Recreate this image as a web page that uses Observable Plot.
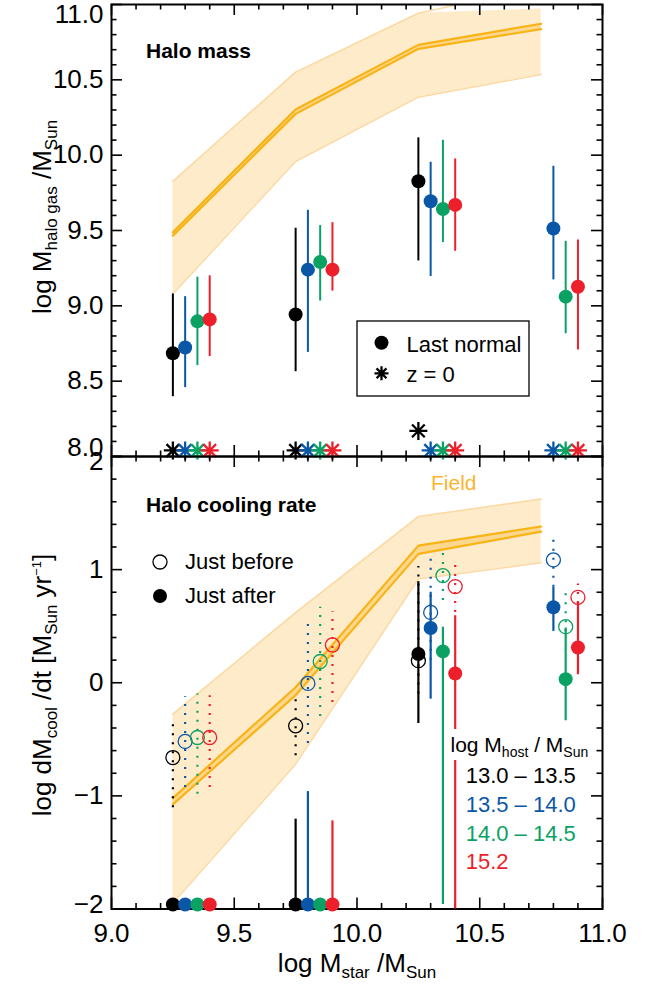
<!DOCTYPE html>
<html><head><meta charset="utf-8">
<script src="https://cdn.jsdelivr.net/npm/d3@7"></script>
<script src="https://cdn.jsdelivr.net/npm/@observablehq/plot@0.6"></script>
<style>
body{margin:0;background:#fff;}
#wrap{position:relative;width:645px;height:987px;overflow:hidden;background:#fff;}
.pane{position:absolute;left:0;}
</style></head><body><div id="wrap"><div class="pane" id="top" style="top:0"></div><div class="pane" id="bot" style="top:452px"></div></div>
<script>
// ---------- data ----------
const hostBins = ["13.0 \u2013 13.5", "13.5 \u2013 14.0", "14.0 \u2013 14.5", "15.2"];
const binColors = ["#000000", "#0a57a8", "#0aa263", "#ec1f2b"];

// x tick values
const xMajor = [9.0, 9.5, 10.0, 10.5, 11.0];
const xMinor = [9.1,9.2,9.3,9.4,9.6,9.7,9.8,9.9,10.1,10.2,10.3,10.4,10.6,10.7,10.8,10.9];
const yTopMajor = [8.0, 8.5, 9.0, 9.5, 10.0, 10.5, 11.0];
const yTopMinor = [8.1,8.2,8.3,8.4,8.6,8.7,8.8,8.9,9.1,9.2,9.3,9.4,9.6,9.7,9.8,9.9,10.1,10.2,10.3,10.4,10.6,10.7,10.8,10.9];
const yBotMajor = [-2, -1, 0, 1, 2];
const yBotMinor = [-1.8,-1.6,-1.4,-1.2,-0.8,-0.6,-0.4,-0.2,0.2,0.4,0.6,0.8,1.2,1.4,1.6,1.8];

// field (orange band)
const fieldX = [9.25, 9.75, 10.25, 10.75];
const fieldHaloLo = [9.079, 9.958, 10.385, 10.535];
const fieldHaloHi = [9.827, 10.551, 10.942, 10.97];
const fieldHaloHiEdge = [9.827, 10.551, 10.942, 11.12];
const fieldHaloMedLo = [9.466, 10.274, 10.706, 10.836];
const fieldHaloMedHi = [9.488, 10.303, 10.732, 10.872];
const fieldCoolLo = [-1.95, -0.72, 0.917, 1.06];
const fieldCoolHi = [-0.277, 0.62, 1.469, 1.625];
const fieldCoolMedLo = [-1.075, -0.11, 1.139, 1.336];
const fieldCoolMedHi = [-1.02, -0.04, 1.212, 1.381];

// top panel: last normal
const lnX   = [9.25,9.30,9.35,9.40, 9.75,9.80,9.85,9.90, 10.25,10.30,10.35,10.40, 10.80,10.85,10.90];
const lnBin = [0,1,2,3, 0,1,2,3, 0,1,2,3, 1,2,3];
const lnY   = [8.685,8.723,8.897,8.910, 8.942,9.240,9.291,9.240, 9.827,9.694,9.643,9.670, 9.513,9.061,9.127];
const lnLo  = [8.397,8.457,8.603,8.663, 8.563,8.691,9.032,9.098, 9.298,9.195,9.420,9.362, 9.172,8.815,8.707];
const lnHi  = [9.079,9.061,9.190,9.199, 9.515,9.634,9.533,9.552, 10.115,9.953,10.099,9.975, 9.926,9.428,9.437];
// top panel: z = 0
const z0X   = [9.25,9.30,9.35,9.40, 9.75,9.80,9.85,9.90, 10.25,10.30,10.35,10.40, 10.80,10.85,10.90];
const z0Bin = [0,1,2,3, 0,1,2,3, 0,1,2,3, 1,2,3];
const z0Y   = [8.04,8.04,8.04,8.04, 8.04,8.04,8.04,8.04, 8.17,8.04,8.04,8.04, 8.04,8.04,8.04];

// bottom panel: just before (open, dotted)
const jbX   = [9.25,9.30,9.35,9.40, 9.75,9.80,9.85,9.90, 10.25,10.30,10.35,10.40, 10.80,10.85,10.90];
const jbBin = [0,1,2,3, 0,1,2,3, 0,1,2,3, 1,2,3];
const jbY   = [-0.661,-0.519,-0.484,-0.484, -0.381,-0.006,0.188,0.334, 0.195,0.622,0.947,0.850, 1.086,0.496,0.755];
const jbLo  = [-1.104,-0.927,-0.985,-0.927, -0.646,-0.537,-0.298,-0.174, -0.10,0.20,0.726,0.62, 0.844,0.45,0.70];
const jbHi  = [-0.366,-0.124,-0.100,-0.115, -0.145,0.519,0.667,0.628, 1.027,1.094,1.153,1.071, 1.301,0.800,0.873];
// bottom panel: just after (filled, solid)
const jaX   = [9.25,9.30,9.35,9.40, 9.75,9.80,9.85,9.90, 10.25,10.30,10.35,10.40, 10.80,10.85,10.90];
const jaBin = [0,1,2,3, 0,1,2,3, 0,1,2,3, 1,2,3];
const jaY   = [-1.96,-1.96,-1.96,-1.96, -1.96,-1.96,-1.96,-1.96, 0.254,0.484,0.277,0.082, 0.667,0.032,0.312];
const jaLo  = [null,null,null,null, -1.96,-1.96,null,-1.96, -0.36,-0.145,-1.96,-2.0, 0.454,-0.336,0.071];
const jaHi  = [null,null,null,null, -1.206,-0.962,null,-1.221, 0.894,0.800,0.490,0.593, 0.844,0.484,0.711];

// ---------- helpers ----------
const FONT = "'Liberation Sans', Arial, Helvetica, sans-serif";
const ORANGE = "#f8b416", FILL = "#fdebc9", EDGE = "#fcd9a3", MFILL = "#fcd790";

const rows = (xs, bins, ys, lo, hi) => xs.map((x, i) => ({x, color: binColors[bins[i]], y: ys[i], lo: lo ? lo[i] : null, hi: hi ? hi[i] : null}));
const bars = r => r.filter(d => d.lo != null && d.hi != null);
const field = (lo, hi, mlo, mhi, hiEdge) => fieldX.map((x, i) => ({x, lo: lo[i], hi: hi[i], mlo: mlo[i], mhi: mhi[i], hiEdge: (hiEdge || hi)[i]}));

const asterisk = {
  draw(ctx, size) {
    const r = Math.sqrt(size / Math.PI), d = r * Math.SQRT1_2;
    ctx.moveTo(0, -r); ctx.lineTo(0, r);
    ctx.moveTo(-r, 0); ctx.lineTo(r, 0);
    ctx.moveTo(-d, -d); ctx.lineTo(d, d);
    ctx.moveTo(-d, d); ctx.lineTo(d, -d);
  }
};

function frameMarks(xMaj, xMin, yMaj, yMin, ph, pw) {
  const T = 11, t = 5.5, s = {stroke: "#000", strokeWidth: 1.6};
  return [
    Plot.tickX(xMaj, {x: d => d, insetTop: ph - T, ...s}),
    Plot.tickX(xMaj, {x: d => d, insetBottom: ph - T, ...s}),
    Plot.tickX(xMin, {x: d => d, insetTop: ph - t, ...s}),
    Plot.tickX(xMin, {x: d => d, insetBottom: ph - t, ...s}),
    Plot.tickY(yMaj, {y: d => d, insetRight: pw - T, ...s}),
    Plot.tickY(yMaj, {y: d => d, insetLeft: pw - T, ...s}),
    Plot.tickY(yMin, {y: d => d, insetRight: pw - t, ...s}),
    Plot.tickY(yMin, {y: d => d, insetLeft: pw - t, ...s}),
    Plot.frame({stroke: "#000", strokeWidth: 2})
  ];
}
function fieldMarks(f) {
  return [
    Plot.areaY(f, {x: "x", y1: "lo", y2: "hi", fill: FILL}),
    Plot.line(f, {x: "x", y: "lo", stroke: EDGE, strokeWidth: 1.5}),
    Plot.line(f, {x: "x", y: "hiEdge", stroke: EDGE, strokeWidth: 1.5, clip: true}),
    Plot.areaY(f, {x: "x", y1: "mlo", y2: "mhi", fill: MFILL}),
    Plot.line(f, {x: "x", y: "mlo", stroke: ORANGE, strokeWidth: 2.2}),
    Plot.line(f, {x: "x", y: "mhi", stroke: ORANGE, strokeWidth: 2.2})
  ];
}
const fmt1 = d3.format(".1f");
const fmtInt = d => d < 0 ? "\u2212" + (-d) : String(d);
const yLab = (vals, fmt, dy) => Plot.text(vals, {y: d => d, text: fmt, frameAnchor: "left", dx: -8, dy, textAnchor: "end", fontSize: 26, fill: "#000"});

const W = 645, ML = 111, MR = 43, PW = W - ML - MR;
const style = {fontFamily: FONT, fontSize: "26px", background: "transparent", overflow: "visible", color: "#000"};

// ---------- top panel ----------
const topH = 460, topMT = 4, topMB = 4;
const ln = rows(lnX, lnBin, lnY, lnLo, lnHi);
const z0 = rows(z0X, z0Bin, z0Y);
const topPlot = Plot.plot({
  width: W, height: topH, marginTop: topMT, marginBottom: topMB, marginLeft: ML, marginRight: MR,
  x: {domain: [9, 11], axis: null}, y: {domain: [8, 11], axis: null}, color: {type: "identity"},
  style,
  marks: [
    ...fieldMarks(field(fieldHaloLo, fieldHaloHi, fieldHaloMedLo, fieldHaloMedHi, fieldHaloHiEdge)),
    ...frameMarks(xMajor, xMinor, yTopMajor, yTopMinor, topH - topMT - topMB, PW),
    Plot.ruleX(bars(ln), {x: "x", y1: "lo", y2: "hi", stroke: "color", strokeWidth: 2}),
    Plot.dot(ln, {x: "x", y: "y", r: 7, fill: "color", stroke: null}),
    Plot.dot(z0, {x: "x", y: "y", r: 9, symbol: asterisk, stroke: "color", fill: "none", strokeWidth: 2.3}),
    yLab([8.5, 9.0, 9.5, 10.0, 10.5], fmt1, 0),
    yLab([11.0], fmt1, 10),
    yLab([8.0], fmt1, -9)
  ]
});
document.getElementById("top").append(topPlot);

// ---------- bottom panel ----------
const botH = 535, botMT = 4, botMB = 78.5;
const jb = rows(jbX, jbBin, jbY, jbLo, jbHi);
const ja = rows(jaX, jaBin, jaY, jaLo, jaHi);
const botPlot = Plot.plot({
  width: W, height: botH, marginTop: botMT, marginBottom: botMB, marginLeft: ML, marginRight: MR,
  x: {domain: [9, 11], axis: null}, y: {domain: [-2, 2], axis: null}, color: {type: "identity"},
  style,
  marks: [
    ...fieldMarks(field(fieldCoolLo, fieldCoolHi, fieldCoolMedLo, fieldCoolMedHi)),
    ...frameMarks(xMajor, xMinor, yBotMajor, yBotMinor, botH - botMT - botMB, PW),
    Plot.ruleX(bars(jb), {x: "x", y1: "lo", y2: "hi", stroke: "color", strokeWidth: 2.2, strokeDasharray: "2 7"}),
    Plot.dot(jb, {x: "x", y: "y", r: 7, fill: "none", stroke: "color", strokeWidth: 1.3}),
    Plot.ruleX(bars(ja), {x: "x", y1: "lo", y2: "hi", stroke: "color", strokeWidth: 2.2}),
    Plot.dot(ja, {x: "x", y: "y", r: 7, fill: "color", stroke: null}),
    yLab([-1, 0, 1], fmtInt, 0),
    yLab([2], fmtInt, 5),
    yLab([-2], fmtInt, -4),
    Plot.text(xMajor, {x: d => d, text: fmt1, frameAnchor: "bottom", dy: 15, lineAnchor: "top", fontSize: 26, fill: "#000"})
  ]
});
document.getElementById("bot").append(botPlot);

// ---------- overlay: titles, legends, axis titles ----------
const ov = d3.select("#wrap").append("svg")
  .attr("width", W).attr("height", 987)
  .style("position", "absolute").style("left", 0).style("top", 0)
  .style("font-family", FONT).style("white-space", "pre");

function txt(x, y, s, size, opt = {}) {
  return ov.append("text").attr("x", x).attr("y", y).attr("font-size", size)
    .attr("font-weight", opt.bold ? "bold" : null).attr("fill", opt.fill || "#000")
    .attr("text-anchor", opt.anchor || "start").text(s);
}
function rich(attrs, parts, base) {
  const t = ov.append("text").attr("font-size", base);
  Object.entries(attrs).forEach(([k, v]) => t.attr(k, v));
  parts.forEach(p => t.append("tspan").attr("font-size", p.s || base).attr("dy", p.dy || 0).text(p.t));
  return t;
}

txt(146, 58, "Halo mass", 21, {bold: true});
txt(146, 512, "Halo cooling rate", 21, {bold: true});
txt(431, 490, "Field", 21, {fill: "#fbb42c"});

// legend box (top panel)
ov.append("rect").attr("x", 357).attr("y", 321).attr("width", 172).attr("height", 75)
  .attr("fill", "#fff").attr("stroke", "#000").attr("stroke-width", 1.3);
ov.append("circle").attr("cx", 381.5).attr("cy", 342.7).attr("r", 7).attr("fill", "#000");
txt(406.5, 351.5, "Last normal", 22);
ov.append("path").attr("transform", "translate(381.5,373.3)")
  .attr("d", d3.symbol().type(asterisk).size(Math.PI * 7 * 7)())
  .attr("stroke", "#000").attr("stroke-width", 2.3).attr("fill", "none");
txt(406.5, 381.7, "z = 0", 22);

// legend (bottom panel)
ov.append("circle").attr("cx", 160).attr("cy", 562).attr("r", 7).attr("fill", "none").attr("stroke", "#000").attr("stroke-width", 1.3);
txt(185, 569, "Just before", 22);
ov.append("circle").attr("cx", 160).attr("cy", 596).attr("r", 7).attr("fill", "#000");
txt(185, 603, "Just after", 22);

// host mass legend
ov.append("rect").attr("x", 447).attr("y", 729).attr("width", 145).attr("height", 31).attr("fill", "#fff");
rich({x: 450.5, y: 752}, [{t: "log M"}, {t: "host", s: 14, dy: 5}, {t: " / M", dy: -5}, {t: "Sun", s: 14, dy: 5}], 21);
const binY = [783, 812, 840.5, 868.5];
hostBins.forEach((b, i) => txt(465.7, binY[i], b, 22, {fill: binColors[i]}));

// axis titles
rich({transform: "translate(51,217) rotate(-90)", "text-anchor": "middle"},
  [{t: "log M"}, {t: "halo gas", s: 17, dy: 6}, {t: " /M", dy: -6}, {t: "Sun", s: 17, dy: 6}], 26);
rich({transform: "translate(51,685) rotate(-90)", "text-anchor": "middle"},
  [{t: "log dM"}, {t: "cool", s: 17, dy: 6}, {t: " /dt [M", dy: -6}, {t: "Sun", s: 17, dy: 6}, {t: " yr", dy: -6}, {t: "\u22121", s: 13, dy: -10}, {t: "]", dy: 10}], 26);
rich({x: 357, y: 972, "text-anchor": "middle"},
  [{t: "log M"}, {t: "star", s: 17, dy: 6}, {t: " /M", dy: -6}, {t: "Sun", s: 17, dy: 6}], 26);
</script></body></html>
